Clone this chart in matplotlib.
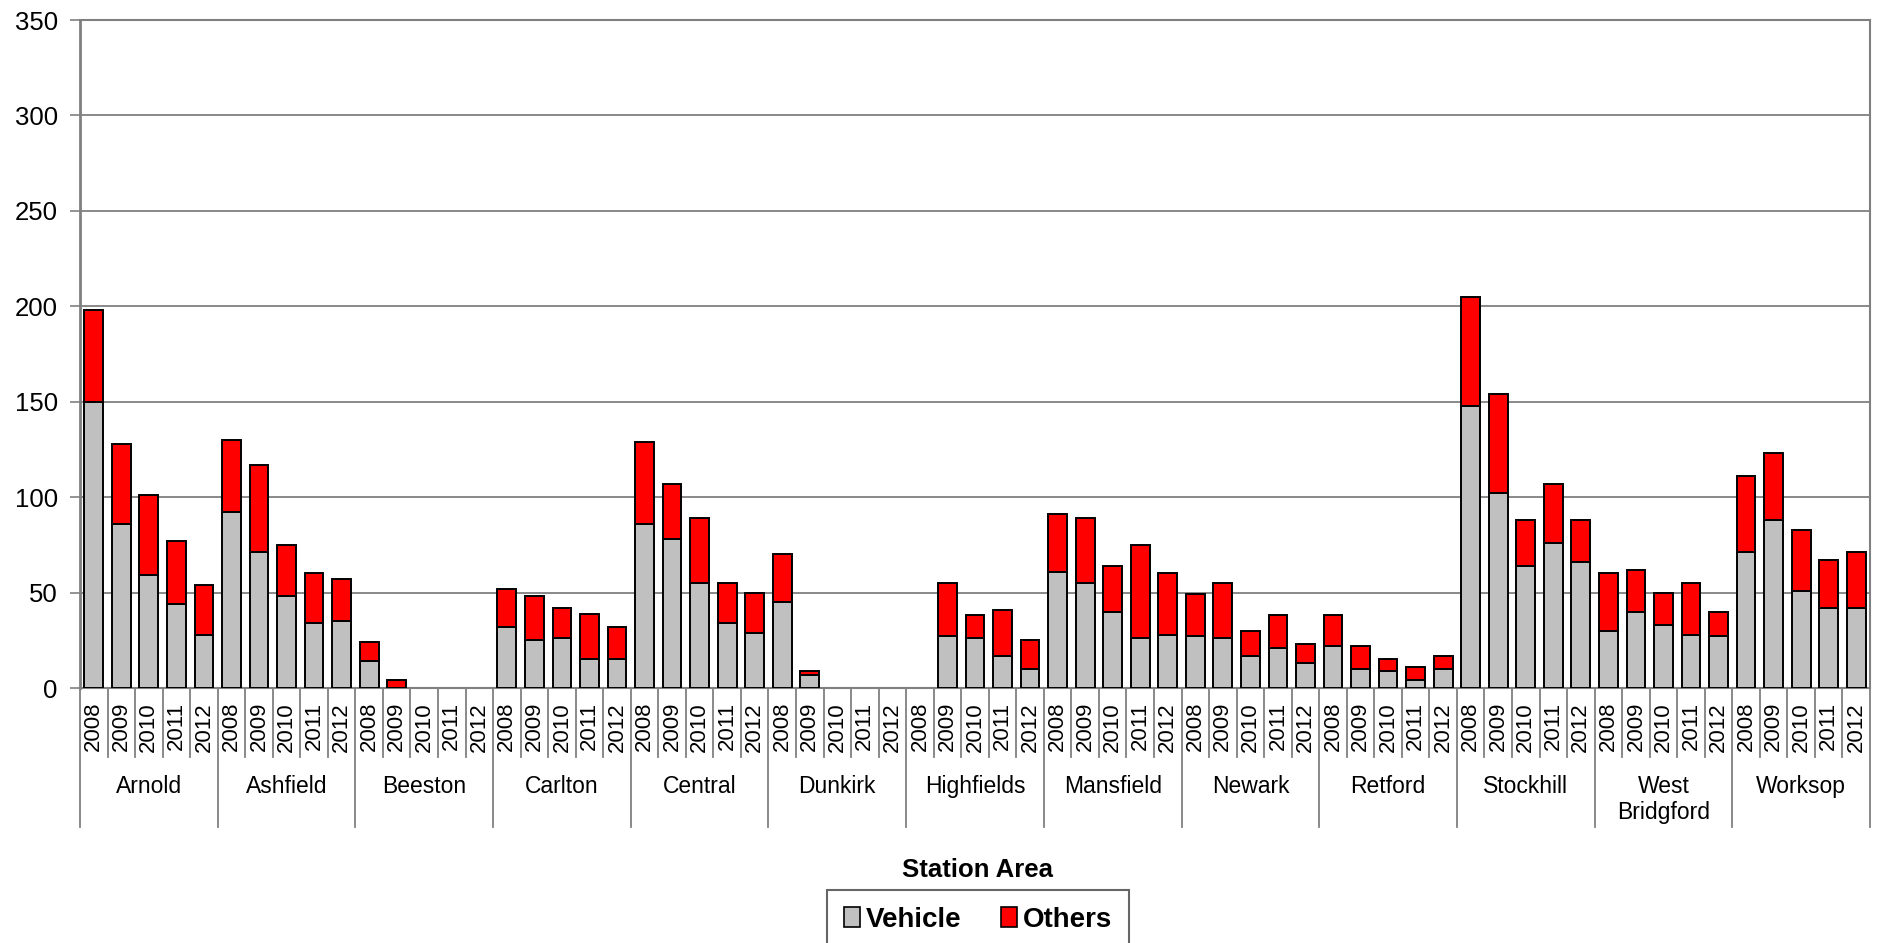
import numpy as np
import matplotlib
matplotlib.use('Agg')
import matplotlib.pyplot as plt
from matplotlib.patches import Patch

plt.rcParams['font.family'] = ['Liberation Sans', 'DejaVu Sans']

stations = ['Arnold', 'Ashfield', 'Beeston', 'Carlton', 'Central', 'Dunkirk', 'Highfields',
            'Mansfield', 'Newark', 'Retford', 'Stockhill', 'West\nBridgford', 'Worksop']
years = ['2008', '2009', '2010', '2011', '2012']

# one value per station per year, 2008..2012
vehicle = [150, 86, 59, 44, 28,
           92, 71, 48, 34, 35,
           14, 0, 0, 0, 0,
           32, 25, 26, 15, 15,
           86, 78, 55, 34, 29,
           45, 7, 0, 0, 0,
           0, 27, 26, 17, 10,
           61, 55, 40, 26, 28,
           27, 26, 17, 21, 13,
           22, 10, 9, 4, 10,
           148, 102, 64, 76, 66,
           30, 40, 33, 28, 27,
           71, 88, 51, 42, 42]
others = [48, 42, 42, 33, 26,
          38, 46, 27, 26, 22,
          10, 4, 0, 0, 0,
          20, 23, 16, 24, 17,
          43, 29, 34, 21, 21,
          25, 2, 0, 0, 0,
          0, 28, 12, 24, 15,
          30, 34, 24, 49, 32,
          22, 29, 13, 17, 10,
          16, 12, 6, 7, 7,
          57, 52, 24, 31, 22,
          30, 22, 17, 27, 13,
          40, 35, 32, 25, 29]

W, H = 1877, 943


def drawChart():
    fig = plt.figure(figsize=(W / 100, H / 100), dpi=100)
    ax = fig.add_axes([80 / W, 1 - 688 / H, 1790 / W, 668 / H])

    x = np.arange(len(vehicle))
    grey_edges = ['black' if v > 0 else 'none' for v in vehicle]
    red_edges = ['black' if v > 0 else 'none' for v in others]
    ax.bar(x, vehicle, 0.68, color='#c0c0c0', edgecolor=grey_edges, linewidth=1.4, zorder=3)
    ax.bar(x, others, 0.68, bottom=vehicle, color='#ff0000', edgecolor=red_edges,
           linewidth=1.4, zorder=3)

    ax.set_xlim(-0.5, len(vehicle) - 0.5)
    ax.set_ylim(0, 350)
    ax.set_yticks(np.arange(0, 351, 50))
    ax.yaxis.grid(True, color='#808080', linewidth=1.3)
    ax.set_axisbelow(True)
    for s in ax.spines.values():
        s.set_color('#808080')
        s.set_linewidth(1.5)
    ax.spines['left'].set_linewidth(2)
    ax.tick_params(axis='y', length=7, width=1.2, color='#808080', labelsize=18.5, pad=9)

    ax.set_xticks(x)
    ax.set_xticklabels(years * len(stations), rotation=90, fontsize=16)
    ax.tick_params(axis='x', length=0, pad=10)

    # separators under the axis: short ones between years, long ones between stations
    tr = ax.get_xaxis_transform()
    for i in range(len(vehicle) + 1):
        yb = -0.208 if i % 5 == 0 else -0.103
        ax.plot([i - 0.5, i - 0.5], [0, yb], transform=tr, clip_on=False,
                color='#808080', linewidth=1.3)

    for g, name in enumerate(stations):
        ax.text(g * 5 + 2, -0.130, name, transform=tr, ha='center', va='top', fontsize=16.5)

    fig.text(0.521, 1 - 870 / H, 'Station Area', ha='center', va='center',
             fontsize=18.5, fontweight='bold')

    handles = [Patch(facecolor='#c0c0c0', edgecolor='black', linewidth=1.2, label='Vehicle'),
               Patch(facecolor='#ff0000', edgecolor='black', linewidth=1.2, label='Others')]
    leg = fig.legend(handles=handles, loc='upper center', bbox_to_anchor=(0.521, 1 - 890 / H),
                     ncol=2, fancybox=False, edgecolor='#666666', framealpha=1,
                     prop={'size': 20, 'weight': 'bold'}, handlelength=0.6, handleheight=0.7,
                     handletextpad=0.2, columnspacing=1.4, borderpad=0.6, borderaxespad=0)
    leg.get_frame().set_linewidth(1.5)

    fig.savefig('out.png', dpi=100)


def Main():
    drawChart()


if __name__ == '__main__':
    Main()
